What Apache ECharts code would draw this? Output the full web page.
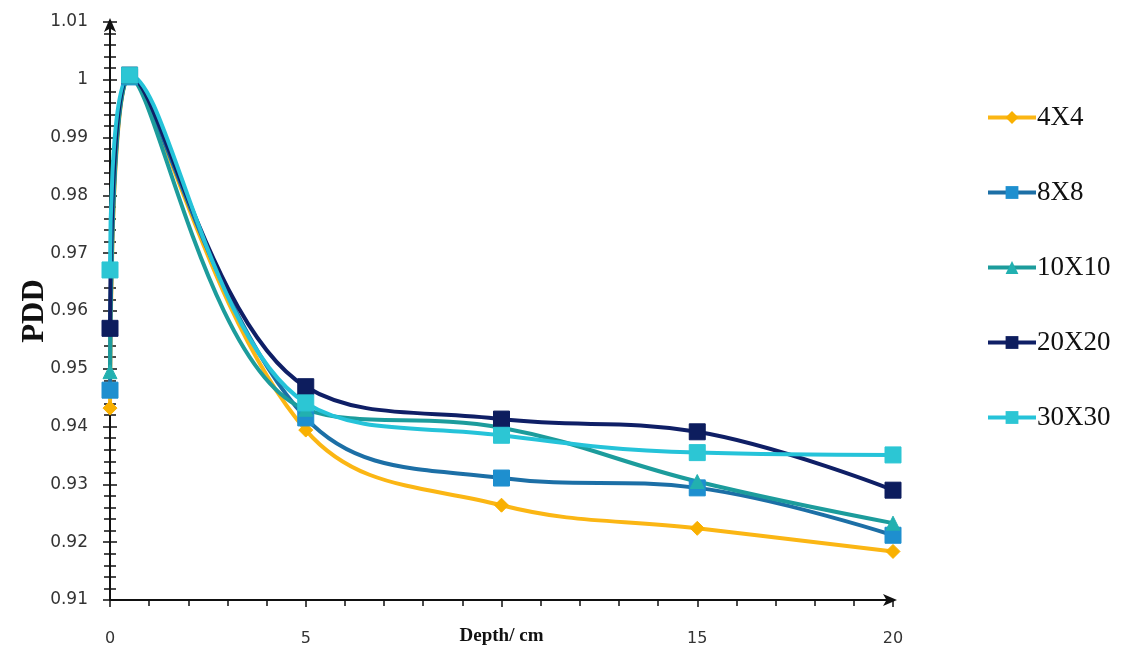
<!DOCTYPE html>
<html>
<head>
<meta charset="utf-8">
<script src="https://cdn.jsdelivr.net/npm/echarts@6/dist/echarts.min.js"></script>
<style>
  html, body { margin: 0; padding: 0; background: #fff; }
  #chart { width: 1139px; height: 658px; }
</style>
</head>
<body>
<div id="chart"></div>
<script>
// Depth positions (cm) of the measured points
const depths = [0, 0.5, 5, 10, 15, 20];

// PDD values per field size
const pdd4x4   = [0.9432, 1.0005, 0.9394, 0.9264, 0.9224, 0.9184];
const pdd8x8   = [0.9463, 1.0005, 0.9415, 0.9311, 0.9294, 0.9212];
const pdd10x10 = [0.9495, 1.0005, 0.9430, 0.9398, 0.9305, 0.9233];
const pdd20x20 = [0.9570, 1.0008, 0.9469, 0.9413, 0.9391, 0.9290];
const pdd30x30 = [0.9671, 1.0008, 0.9441, 0.9385, 0.9355, 0.9351];

const seriesNames = ['4X4', '8X8', '10X10', '20X20', '30X30'];
const xTickLabels = ['0', '5', '', '15', '20'];

const serifFont = '"Liberation Serif", "DejaVu Serif", serif';
const tickFont = '"DejaVu Sans", "Noto Sans", sans-serif';

function pairs(values) {
  return depths.map((d, i) => [d, values[i]]);
}

function lineSeries(name, values, lineColor, markColor, symbol, size) {
  return {
    name: name,
    type: 'line',
    smooth: 0.4,
    data: pairs(values),
    symbol: symbol,
    symbolSize: size,
    lineStyle: { color: lineColor, width: 4 },
    itemStyle: { color: markColor, borderColor: markColor },
    emphasis: { disabled: true }
  };
}

const chart = echarts.init(document.getElementById('chart'), null, { renderer: 'canvas' });

const yAxisCommon = {
  type: 'value',
  min: 0.91,
  max: 1.01,
  interval: 0.01,
  splitLine: { show: false }
};

chart.setOption({
  animation: false,
  backgroundColor: '#ffffff',
  grid: {
    left: 110, right: 246, top: 22, bottom: 58,
    containLabel: false,
    outerBoundsMode: 'none'
  },
  legend: {
    orient: 'vertical',
    left: 981,
    top: 99,
    itemGap: 48,
    itemWidth: 48,
    itemHeight: 16,
    data: seriesNames,
    lineStyle: { width: 4 },
    textStyle: { fontFamily: serifFont, fontSize: 27, color: '#111', padding: [0, 0, 0, -4] }
  },
  xAxis: {
    type: 'value',
    min: 0,
    max: 20,
    interval: 5,
    name: 'Depth/ cm',
    nameLocation: 'middle',
    nameGap: 27,
    nameMoveOverlap: false,
    nameTextStyle: { fontFamily: serifFont, fontSize: 19, fontWeight: 'bold', color: '#111' },
    axisLine: {
      lineStyle: { color: '#111', width: 2 },
      symbol: ['none', 'arrow'],
      symbolSize: [9, 14],
      symbolOffset: [0, 4]
    },
    axisTick: { show: true, length: 7, lineStyle: { color: '#111', width: 1.5 } },
    minorTick: { show: true, splitNumber: 5, length: 6, lineStyle: { color: '#111', width: 1.5 } },
    axisLabel: {
      margin: 31,
      fontFamily: tickFont,
      fontSize: 16,
      color: '#333',
      formatter: function (v) { return xTickLabels[Math.round(v / 5)]; }
    },
    splitLine: { show: false }
  },
  yAxis: [
    Object.assign({}, yAxisCommon, {
      name: 'PDD',
      nameLocation: 'middle',
      nameGap: 60,
      nameRotate: 90,
      nameMoveOverlap: false,
      nameTextStyle: { fontFamily: serifFont, fontSize: 31, fontWeight: 'bold', color: '#111' },
      axisLine: {
        lineStyle: { color: '#111', width: 2 },
        symbol: ['none', 'arrow'],
        symbolSize: [9, 14],
        symbolOffset: [0, 4]
      },
      axisTick: { show: true, length: 7, lineStyle: { color: '#111', width: 1.5 } },
      minorTick: { show: true, splitNumber: 5, length: 6, lineStyle: { color: '#111', width: 1.5 } },
      axisLabel: {
        margin: 22,
        fontFamily: tickFont,
        fontSize: 17,
        color: '#333',
        formatter: function (v) { return String(Math.round(v * 100) / 100); }
      }
    }),
    // mirrored ticks on the inner side so the y ticks cross the axis line
    Object.assign({}, yAxisCommon, {
      position: 'left',
      axisLine: { show: false },
      axisTick: { show: true, inside: true, length: 7, lineStyle: { color: '#111', width: 1.5 } },
      minorTick: { show: true, splitNumber: 5, length: 6, lineStyle: { color: '#111', width: 1.5 } },
      axisLabel: { show: false }
    })
  ],
  series: [
    lineSeries('4X4',   pdd4x4,   '#FBB614', '#F9B000', 'diamond', 14),
    lineSeries('8X8',   pdd8x8,   '#1C6FA6', '#1E8FCF', 'rect', 16),
    lineSeries('10X10', pdd10x10, '#1C9C9C', '#22B0B0', 'triangle', 14),
    lineSeries('20X20', pdd20x20, '#0F1F66', '#0D1D5E', 'rect', 16),
    lineSeries('30X30', pdd30x30, '#25C3D9', '#2CC6D4', 'rect', 16)
  ]
});
</script>
</body>
</html>
